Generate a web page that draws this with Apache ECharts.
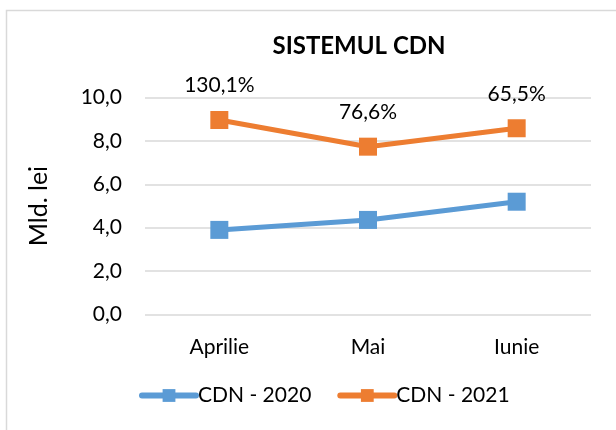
<!DOCTYPE html>
<html>
<head>
<meta charset="utf-8">
<script src="https://cdn.jsdelivr.net/npm/echarts@6/dist/echarts.min.js"></script>
<style>
  html, body { margin: 0; padding: 0; background: #fff; }
  #chart { width: 616px; height: 430px; }
</style>
</head>
<body>
<div id="chart"></div>
<script>
var luni = ['Aprilie', 'Mai', 'Iunie']
var cdn2020 = [3.9, 4.36, 5.2]
var cdn2021 = [8.97, 7.74, 8.59]
var cresteri = ['130,1%', '76,6%', '65,5%']   // etichete deasupra seriei 2021
var yTicks = [0, 2, 4, 6, 8, 10]

var font = 'Lato, "Open Sans", sans-serif'
var chart = echarts.init(document.getElementById('chart'))
var option = {
  animation: false,
  textStyle: { fontFamily: font },
  graphic: [{
    type: 'rect',
    shape: { x: 6.5, y: 10.5, width: 620, height: 430 },
    style: { fill: 'none', stroke: '#d9d9d9', lineWidth: 1.5 }
  }],
  title: {
    text: 'SISTEMUL CDN',
    left: 354, top: 29, textAlign: 'center',
    textStyle: { fontSize: 24, fontWeight: 'bold', color: '#000', fontFamily: font }
  },
  grid: { left: 145, right: 25, top: 97.7, bottom: 115.6 },
  legend: {
    bottom: 19, left: 134,
    itemWidth: 54, itemHeight: 16, itemGap: 26,
    textStyle: { fontSize: 21, color: '#000', padding: [0, 0, 0, -3] },
    lineStyle: { width: 6, cap: 'round' },
    data: ['CDN - 2020', 'CDN - 2021']
  },
  xAxis: {
    type: 'category',
    data: luni,
    boundaryGap: true,
    axisLine: { show: false },
    axisTick: { show: false },
    axisLabel: { fontSize: 21, color: '#000', margin: 22 }
  },
  yAxis: {
    type: 'value',
    min: yTicks[0], max: yTicks[yTicks.length - 1], interval: 2,
    name: 'Mld. lei',
    nameLocation: 'middle',
    nameGap: 94,
    nameRotate: 90,
    nameTextStyle: { fontSize: 25, color: '#000' },
    axisLabel: {
      fontSize: 21, color: '#000', margin: 23,
      formatter: function (v) { return v.toFixed(1).replace('.', ',') }
    },
    splitLine: { lineStyle: { color: '#d9d9d9', width: 1.5 } }
  },
  series: [
    {
      name: 'CDN - 2020', type: 'line', data: cdn2020,
      symbol: 'rect', symbolSize: 18,
      lineStyle: { color: '#5b9bd5', width: 5 },
      itemStyle: { color: '#5b9bd5' }
    },
    {
      name: 'CDN - 2021', type: 'line', data: cdn2021,
      symbol: 'rect', symbolSize: 18,
      lineStyle: { color: '#ed7d31', width: 5 },
      itemStyle: { color: '#ed7d31' },
      label: {
        show: true, position: 'top', distance: 15,
        fontSize: 21, color: '#000',
        formatter: function (p) { return cresteri[p.dataIndex] }
      }
    }
  ]
}
chart.setOption(option)
</script>
</body>
</html>
